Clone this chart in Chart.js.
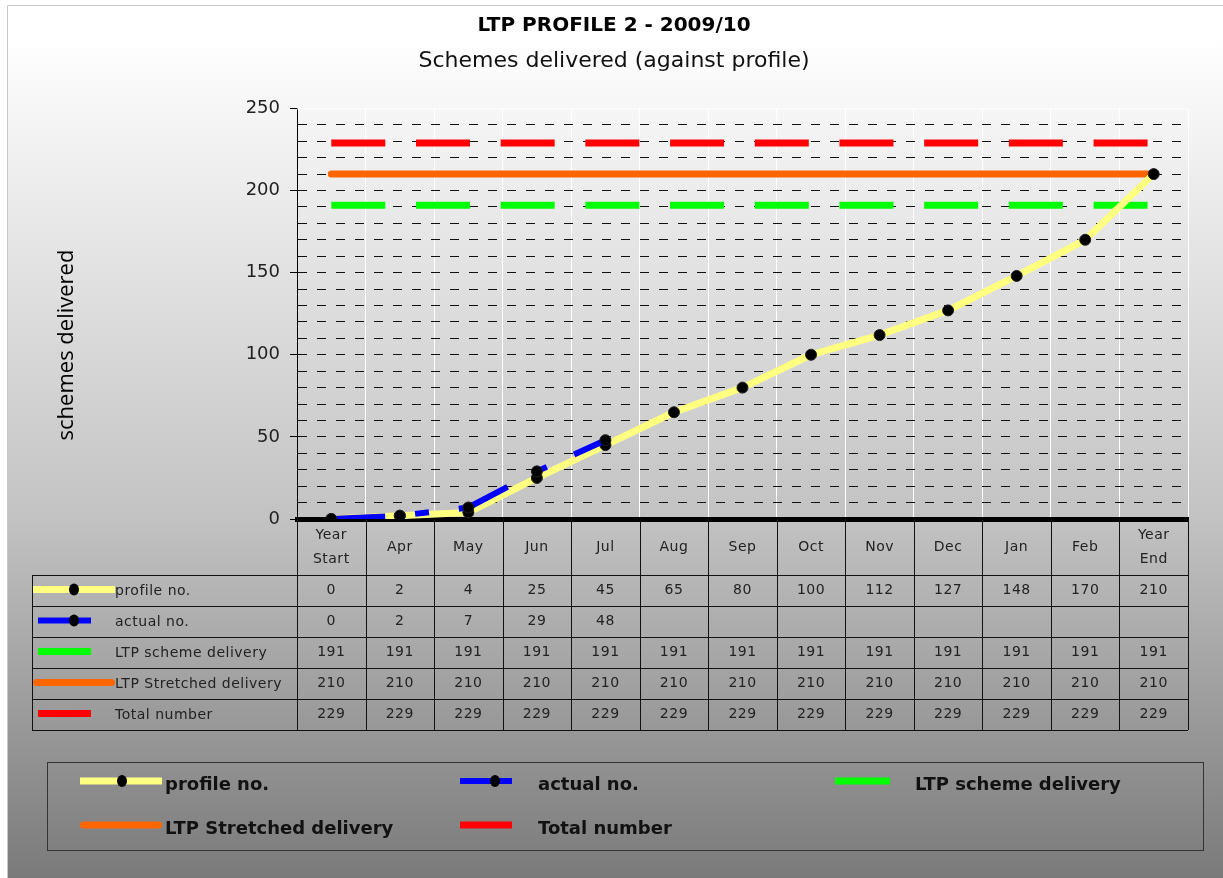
<!DOCTYPE html>
<html>
<head>
<meta charset="utf-8">
<title>LTP PROFILE 2 - 2009/10</title>
<script src="https://cdn.jsdelivr.net/npm/chart.js@4.4.0/dist/chart.umd.min.js"></script>
<style>
  html, body { margin: 0; padding: 0; background: #fff; }
</style>
</head>
<body>
<canvas id="chartPerfil" width="1223" height="878"></canvas>
<script>
// datos
const meses = ["Year Start", "Apr", "May", "Jun", "Jul", "Aug", "Sep", "Oct", "Nov", "Dec", "Jan", "Feb", "Year End"];
const profileNo = [0, 2, 4, 25, 45, 65, 80, 100, 112, 127, 148, 170, 210];
const actualNo = [0, 2, 7, 29, 48, null, null, null, null, null, null, null, null];
const schemeDelivery = [191, 191, 191, 191, 191, 191, 191, 191, 191, 191, 191, 191, 191];
const stretchedDelivery = [210, 210, 210, 210, 210, 210, 210, 210, 210, 210, 210, 210, 210];
const totalNumber = [229, 229, 229, 229, 229, 229, 229, 229, 229, 229, 229, 229, 229];
const yMin = 0, yMax = 250, yPaso = 10, yEtiqueta = 50;

const FUENTE = "'DejaVu Sans', sans-serif";

// estilos de cada serie (tabla + leyenda + lineas)
const series = [
  { label: "profile no.", data: profileNo, color: "#ffff80", width: 7, dash: [], cap: "butt", marker: true, orden: 0 },
  { label: "actual no.", data: actualNo, color: "#0000ff", width: 6, dash: [54, 30, 14, 30], cap: "butt", marker: true, orden: -1 },
  { label: "LTP scheme delivery", data: schemeDelivery, color: "#00ff00", width: 7, dash: [54, 30.7], cap: "butt", marker: false, orden: 2 },
  { label: "LTP Stretched delivery", data: stretchedDelivery, color: "#ff6600", width: 7, dash: [], cap: "round", marker: false, orden: 3 },
  { label: "Total number", data: totalNumber, color: "#ff0000", width: 7, dash: [54, 30.7], cap: "butt", marker: false, orden: 4 }
];

function clave(ctx, s, x1, x2, y, mx) {
  ctx.save();
  ctx.strokeStyle = s.color;
  ctx.lineWidth = s.width;
  ctx.lineCap = s.cap;
  const d = s.cap === "round" ? s.width / 2 : 0;
  ctx.beginPath();
  ctx.moveTo(x1 + d, y);
  ctx.lineTo(x2 - d, y);
  ctx.stroke();
  if (s.marker && mx) {
    ctx.fillStyle = "#000";
    ctx.beginPath();
    ctx.ellipse(mx, y, 5, 6, 0, 0, Math.PI * 2);
    ctx.fill();
  }
  ctx.restore();
}

// fondo degradado
const fondo = {
  id: "fondo",
  beforeDraw(chart) {
    const ctx = chart.ctx;
    ctx.save();
    ctx.fillStyle = "#fff";
    ctx.fillRect(0, 0, chart.width, chart.height);
    const g = ctx.createLinearGradient(0, 40, 0, chart.height);
    g.addColorStop(0, "#ffffff");
    g.addColorStop(0.573, "#c2c2c2");
    g.addColorStop(1, "#7a7a7a");
    ctx.fillStyle = g;
    ctx.fillRect(7, 5, chart.width - 7, chart.height - 5);
    ctx.strokeStyle = "#c8c8c8";
    ctx.lineWidth = 1;
    ctx.beginPath();
    ctx.moveTo(7.5, chart.height);
    ctx.lineTo(7.5, 5.5);
    ctx.lineTo(chart.width, 5.5);
    ctx.stroke();
    ctx.restore();
  },
  beforeDatasetsDraw(chart) {
    const { ctx, chartArea } = chart;
    ctx.save();
    ctx.strokeStyle = "#ffffff";
    ctx.lineWidth = 1;
    ctx.beginPath();
    ctx.moveTo(chartArea.left, chartArea.top + 0.5);
    ctx.lineTo(chartArea.right, chartArea.top + 0.5);
    ctx.stroke();
    ctx.restore();
  }
};

// tabla de datos, titulo del eje y leyenda
const tabla = {
  id: "tabla",
  afterDraw(chart) {
    const { ctx, chartArea, scales: { x } } = chart;
    const colW = x.getPixelForValue(1) - x.getPixelForValue(0);
    const izq = 32;
    const top = chartArea.bottom;
    const headH = 56, rowH = 31;
    const bottom = top + headH + rowH * series.length;

    ctx.save();
    ctx.strokeStyle = "#111";
    ctx.lineWidth = 1;
    // verticales
    for (let i = 0; i <= meses.length; i++) {
      const px = Math.round(x.getPixelForValue(0) - colW / 2 + i * colW) + 0.5;
      ctx.beginPath();
      ctx.moveTo(px, top);
      ctx.lineTo(px, bottom);
      ctx.stroke();
    }
    ctx.beginPath();
    ctx.moveTo(izq + 0.5, top + headH);
    ctx.lineTo(izq + 0.5, bottom);
    ctx.stroke();
    // horizontales
    for (let r = 0; r <= series.length; r++) {
      const py = Math.round(top + headH + r * rowH) + 0.5;
      ctx.beginPath();
      ctx.moveTo(izq, py);
      ctx.lineTo(chartArea.right, py);
      ctx.stroke();
    }

    ctx.fillStyle = "#222";
    ctx.font = "14px " + FUENTE;
    ctx.letterSpacing = "0.5px";
    ctx.textAlign = "center";
    ctx.textBaseline = "middle";
    // cabecera
    meses.forEach((m, i) => {
      const px = x.getPixelForValue(i);
      const partes = m.startsWith("Year") ? m.split(" ") : [m];
      if (partes.length === 2) {
        ctx.fillText(partes[0], px, top + headH / 2 - 12);
        ctx.fillText(partes[1], px, top + headH / 2 + 12);
      } else {
        ctx.fillText(m, px, top + headH / 2);
      }
    });
    // filas
    series.forEach((s, r) => {
      const cy = top + headH + r * rowH + rowH / 2;
      const ancho = (s.label === "profile no." || s.label === "LTP Stretched delivery");
      clave(ctx, s, ancho ? 33 : 38, ancho ? 115 : 91, cy - 1, 74);
      ctx.fillStyle = "#222";
      ctx.textAlign = "left";
      ctx.fillText(s.label, 115, cy + 1);
      ctx.textAlign = "center";
      s.data.forEach((v, i) => {
        if (v !== null) ctx.fillText(String(v), x.getPixelForValue(i), cy);
      });
    });

    // titulo eje y
    ctx.letterSpacing = "0px";
    ctx.translate(67, 345);
    ctx.rotate(-Math.PI / 2);
    ctx.font = "22px 'Open Sans', sans-serif";
    ctx.fillStyle = "#000";
    ctx.fillText("schemes delivered", 0, 0);
    ctx.restore();

    // leyenda
    ctx.save();
    ctx.strokeStyle = "#333";
    ctx.lineWidth = 1;
    ctx.strokeRect(47.5, 762.5, 1156, 88);
    const pos = [
      { x1: 80, x2: 162, mx: 122, tx: 165, y: 781 },
      { x1: 460, x2: 512, mx: 495, tx: 538, y: 781 },
      { x1: 835, x2: 890, mx: null, tx: 915, y: 781 },
      { x1: 80, x2: 162, mx: null, tx: 165, y: 825 },
      { x1: 460, x2: 512, mx: null, tx: 538, y: 825 }
    ];
    ctx.font = "bold 18px " + FUENTE;
    ctx.textAlign = "left";
    ctx.textBaseline = "middle";
    series.forEach((s, i) => {
      const p = pos[i];
      clave(ctx, s, p.x1, p.x2, p.y, p.mx);
      ctx.fillStyle = "#111";
      ctx.fillText(s.label, p.tx, p.y + 4);
    });
    ctx.restore();
  }
};

document.addEventListener("DOMContentLoaded", () => {
  new Chart(document.getElementById("chartPerfil"), {
    type: "line",
    data: {
      labels: meses,
      datasets: series.map(s => ({
        label: s.label,
        data: s.data,
        order: s.orden,
        borderColor: s.color,
        borderWidth: s.width,
        borderDash: s.dash,
        borderCapStyle: s.cap,
        borderJoinStyle: "round",
        tension: 0,
        spanGaps: false,
        pointRadius: s.marker ? 5.5 : 0,
        pointBackgroundColor: "#000",
        pointBorderColor: "#222",
        pointBorderWidth: 1
      }))
    },
    options: {
      responsive: false,
      animation: false,
      devicePixelRatio: 1,
      layout: { padding: { left: 40, right: 35, top: 0, bottom: 0 } },
      plugins: {
        legend: { display: false },
        tooltip: { enabled: false },
        title: {
          display: true,
          text: "LTP PROFILE 2 - 2009/10",
          color: "#000",
          font: { family: FUENTE, size: 20, weight: "bold", lineHeight: 1.2 },
          padding: { top: 14, bottom: 0 }
        },
        subtitle: {
          display: true,
          text: "Schemes delivered (against profile)",
          color: "#111",
          font: { family: FUENTE, size: 22, lineHeight: 1.2 },
          padding: { top: 10, bottom: 34 }
        }
      },
      scales: {
        x: {
          offset: true,
          ticks: { display: false },
          grid: {
            offset: true,
            drawTicks: false,
            color: ctx => ctx.index === 0 ? "transparent" : "#ffffff",
            lineWidth: 1
          },
          border: { color: "#000", width: 5 },
          afterFit: scale => { scale.height = 359; }
        },
        y: {
          min: yMin,
          max: yMax,
          ticks: {
            stepSize: yPaso,
            autoSkip: false,
            padding: 10,
            color: "#222",
            font: { family: FUENTE, size: 18 },
            callback: v => (v % yEtiqueta === 0 ? v : "")
          },
          grid: {
            color: ctx => (ctx.tick && (ctx.tick.value === yMin || ctx.tick.value === yMax)) ? "transparent" : "#111",
            tickColor: ctx => (ctx.tick && ctx.tick.value % yEtiqueta === 0) ? "#000" : "transparent",
            tickLength: 7,
            lineWidth: 1
          },
          border: { color: "#000", width: 1, dash: [9, 10] },
          afterFit: scale => { scale.width = 257; }
        }
      }
    },
    plugins: [fondo, tabla]
  });
});
</script>
</body>
</html>
